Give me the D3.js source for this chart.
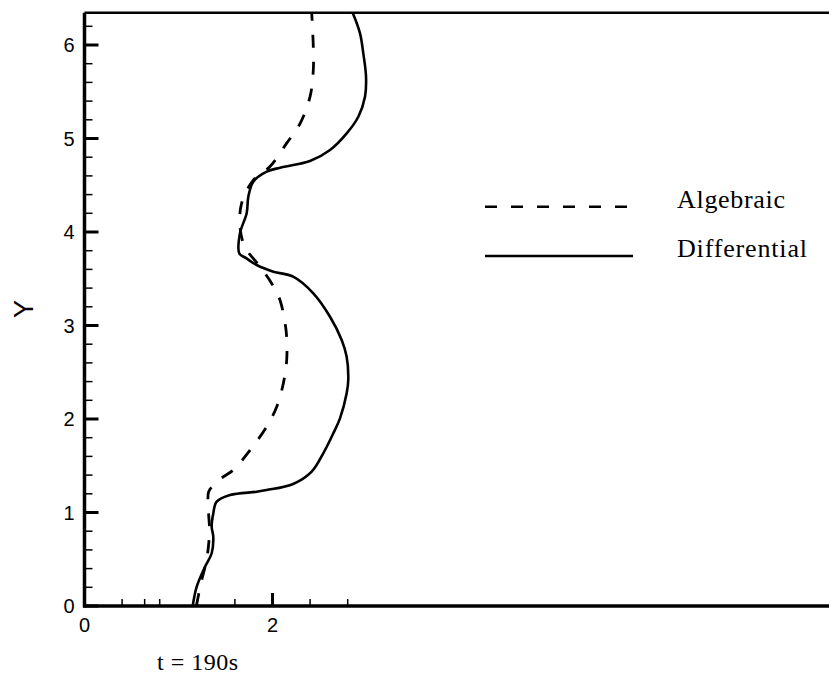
<!DOCTYPE html>
<html>
<head>
<meta charset="utf-8">
<script src="https://cdn.jsdelivr.net/npm/d3@7"></script>
<style>
  body { margin: 0; background: #fff; }
  svg { display: block; }
</style>
</head>
<body>
<div id="chart"></div>
<script>
// Differential (solid) profile, X along the curve vs Y
const diffX = [1.151, 1.194, 1.282, 1.353, 1.37, 1.353, 1.37, 1.406, 1.548, 1.832, 1.938, 2.22, 2.417, 2.54, 2.647, 2.718, 2.789, 2.806, 2.789, 2.736, 2.612, 2.434, 2.22, 2.009, 1.832, 1.72, 1.647, 1.654, 1.725, 1.743, 1.796, 1.938, 2.08, 2.399, 2.612, 2.789, 2.913, 2.984, 2.995, 2.966, 2.931, 2.853];
const diffY = [0, 0.207, 0.42, 0.564, 0.741, 0.848, 0.99, 1.116, 1.187, 1.222, 1.24, 1.305, 1.437, 1.633, 1.847, 2.007, 2.275, 2.417, 2.666, 2.845, 3.094, 3.344, 3.522, 3.576, 3.647, 3.72, 3.77, 3.986, 4.2, 4.378, 4.538, 4.645, 4.688, 4.759, 4.877, 5.055, 5.233, 5.447, 5.661, 5.91, 6.125, 6.345];

// Algebraic (dashed) profile
const algX = [1.19, 1.24, 1.30, 1.33, 1.32, 1.32, 1.36, 1.46, 1.583, 1.761, 1.938, 2.045, 2.115, 2.151, 2.144, 2.08, 1.991, 1.867, 1.707, 1.654, 1.672, 1.796, 1.973, 2.151, 2.293, 2.4, 2.434, 2.434, 2.417];
const algY = [0, 0.25, 0.5, 0.8, 1.0, 1.22, 1.28, 1.37, 1.455, 1.668, 1.918, 2.131, 2.38, 2.631, 2.95, 3.27, 3.45, 3.63, 3.84, 4.06, 4.31, 4.556, 4.7, 4.95, 5.16, 5.45, 5.73, 5.98, 6.345];

const yMajor = [0, 1, 2, 3, 4, 5, 6];
const yMinor = [0.2, 0.4, 0.6, 0.8, 1.2, 1.4, 1.6, 1.8, 2.2, 2.4, 2.6, 2.8, 3.2, 3.4, 3.6, 3.8, 4.2, 4.4, 4.6, 4.8, 5.2, 5.4, 5.6, 5.8, 6.2];
const xMajor = [0, 2];
const xMinor = [0.4, 0.64, 0.8, 1.2, 1.6, 2.4, 2.8];

const legendNames = ["Algebraic", "Differential"];

const width = 829, height = 675;
const plotLeft = 84.5, plotBottom = 606, plotTop = 12.7;

const svg = d3.select("#chart").append("svg")
    .attr("width", width)
    .attr("height", height);

const x = d3.scaleLinear().domain([0, 8]).range([plotLeft, plotLeft + 8 * 94]);
const y = d3.scaleLinear().domain([0, 6]).range([plotBottom, 45]);

svg.append("clipPath").attr("id", "plot")
  .append("rect")
    .attr("x", plotLeft).attr("y", plotTop)
    .attr("width", width - plotLeft).attr("height", plotBottom - plotTop);

const line = d3.line()
    .x(d => x(d[0]))
    .y(d => y(d[1]))
    .curve(d3.curveCatmullRom.alpha(0.5));

const g = svg.append("g").attr("clip-path", "url(#plot)");

g.append("path")
    .datum(algX.map((v, i) => [v, algY[i]]))
    .attr("d", line)
    .attr("fill", "none")
    .attr("stroke", "#000")
    .attr("stroke-width", 2.8)
    .attr("stroke-dasharray", "13,14");

g.append("path")
    .datum(diffX.map((v, i) => [v, diffY[i]]))
    .attr("d", line)
    .attr("fill", "none")
    .attr("stroke", "#000")
    .attr("stroke-width", 2.6);

// frame: left, top, bottom
svg.append("line").attr("x1", plotLeft).attr("x2", plotLeft).attr("y1", plotTop).attr("y2", plotBottom + 1.5)
    .attr("stroke", "#000").attr("stroke-width", 3.5);
svg.append("line").attr("x1", plotLeft).attr("x2", width).attr("y1", plotTop).attr("y2", plotTop)
    .attr("stroke", "#000").attr("stroke-width", 2.5);
svg.append("line").attr("x1", plotLeft - 1.5).attr("x2", width).attr("y1", plotBottom).attr("y2", plotBottom)
    .attr("stroke", "#000").attr("stroke-width", 3.5);

// y ticks
svg.selectAll(".ymaj").data(yMajor).enter().append("line")
    .attr("x1", plotLeft).attr("x2", plotLeft + 14)
    .attr("y1", d => y(d)).attr("y2", d => y(d))
    .attr("stroke", "#000").attr("stroke-width", 3);
svg.selectAll(".ymin").data(yMinor).enter().append("line")
    .attr("x1", plotLeft).attr("x2", plotLeft + 8)
    .attr("y1", d => y(d)).attr("y2", d => y(d))
    .attr("stroke", "#000").attr("stroke-width", 1.5);
svg.selectAll(".ylab").data(yMajor).enter().append("text")
    .attr("x", plotLeft - 10).attr("y", d => y(d) + 7)
    .attr("text-anchor", "end")
    .attr("font-family", "Liberation Sans, Arial, sans-serif")
    .attr("font-size", 20)
    .text(d => d);

// x ticks
svg.selectAll(".xmaj").data(xMajor).enter().append("line")
    .attr("x1", d => x(d)).attr("x2", d => x(d))
    .attr("y1", plotBottom).attr("y2", plotBottom - 13)
    .attr("stroke", "#000").attr("stroke-width", 3);
svg.selectAll(".xmin").data(xMinor).enter().append("line")
    .attr("x1", d => x(d)).attr("x2", d => x(d))
    .attr("y1", plotBottom).attr("y2", plotBottom - 7)
    .attr("stroke", "#000").attr("stroke-width", 1.5);
svg.selectAll(".xlab").data(xMajor).enter().append("text")
    .attr("x", d => x(d)).attr("y", plotBottom + 26)
    .attr("text-anchor", "middle")
    .attr("font-family", "Liberation Sans, Arial, sans-serif")
    .attr("font-size", 20)
    .text(d => d);

// axis title
svg.append("text")
    .attr("transform", "translate(33,309) rotate(-90)")
    .attr("text-anchor", "middle")
    .attr("font-family", "Liberation Sans, Arial, sans-serif")
    .attr("font-size", 27)
    .text("Y");

svg.append("text")
    .attr("x", 157).attr("y", 670)
    .attr("font-family", "Liberation Serif, Times New Roman, serif")
    .attr("font-size", 24)
    .attr("textLength", 81).attr("lengthAdjust", "spacing")
    .text("t = 190s");

// legend
const legY = [206.7, 256];
const leg = svg.selectAll(".leg").data(legendNames).enter().append("g");
leg.append("line")
    .attr("x1", 485).attr("x2", 633)
    .attr("y1", (d, i) => legY[i]).attr("y2", (d, i) => legY[i])
    .attr("stroke", "#000").attr("stroke-width", 2.6)
    .attr("stroke-dasharray", (d, i) => i === 0 ? "12,14" : null);
leg.append("text")
    .attr("x", 677).attr("y", (d, i) => legY[i] + 1)
    .attr("font-family", "Liberation Serif, Times New Roman, serif")
    .attr("font-size", 26)
    .attr("textLength", (d, i) => i === 0 ? 108 : 130).attr("lengthAdjust", "spacing")
    .text(d => d);
</script>
</body>
</html>
